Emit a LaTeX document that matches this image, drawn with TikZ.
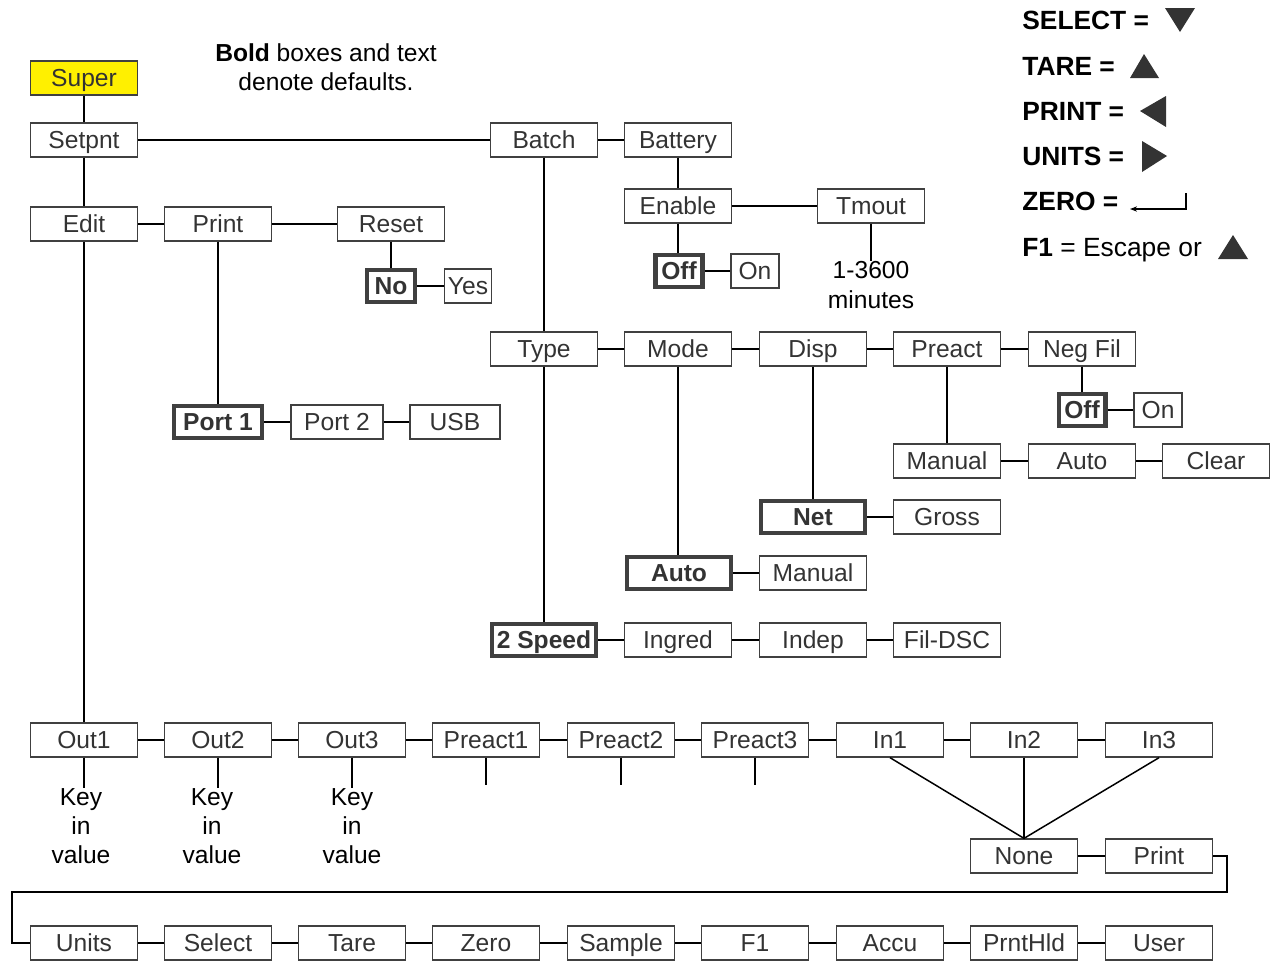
\documentclass[tikz,border=0pt]{standalone}
\usepackage{fontspec}
\setmainfont{Liberation Sans}
\usetikzlibrary{arrows.meta}
\definecolor{superyellow}{RGB}{255,240,0}
\definecolor{boxgray}{RGB}{64,64,64}
\definecolor{txtgray}{RGB}{51,51,51}

\begin{document}
\begin{tikzpicture}[x=0.02cm,y=-0.02cm,
  box/.style={draw=boxgray,line width=0.75pt,minimum width=2.14cm,minimum height=0.68cm,
    inner sep=0pt,text height=10pt,text depth=0pt,text=txtgray,font=\fontsize{14}{16.7}\selectfont},
  defbox/.style={box,line width=2.3pt,minimum height=0.64cm,font=\fontsize{14}{16.7}\selectfont\bfseries},
  link/.style={line width=0.85pt},
  note/.style={align=center,inner sep=0pt,font=\fontsize{14}{16.7}\selectfont},
  legend/.style={anchor=west,inner sep=0pt,text height=10.5pt,text depth=0pt,font=\fontsize{15}{18}\selectfont\bfseries}]
\path[use as bounding box] (0,0) rectangle (1270,961);

\node[box,fill=superyellow] (super) at (84,78) {Super};
\node[note,align=center] (defnote) at (326,67) {\textbf{Bold} boxes and text\\denote defaults.};

\node[box] (setpnt) at (84,140) {Setpnt};
\node[box] (batch) at (544,140) {Batch};
\node[box] (battery) at (678,140) {Battery};
\node[box] (enable) at (678,206) {Enable};
\node[box] (tmout) at (871,206) {Tmout};
\node[defbox,minimum width=0.94cm] (boff) at (679,271) {Off};
\node[box,minimum width=0.96cm] (bon) at (755,271) {On};
\node[note] (tmtext) at (871,285) {1-3600\\minutes};

\node[box] (edit) at (84,224) {Edit};
\node[box] (print) at (218,224) {Print};
\node[box] (reset) at (391,224) {Reset};
\node[defbox,minimum width=0.96cm] (no) at (391,286) {No};
\node[box,minimum width=0.94cm] (yes) at (468,286) {Yes};
\node[defbox,minimum width=1.76cm] (port1) at (218,422) {Port 1};
\node[box,minimum width=1.84cm] (port2) at (337,422) {Port 2};
\node[box,minimum width=1.8cm] (usb) at (455,422) {USB};

\node[box] (type) at (544,349) {Type};
\node[box] (mode) at (678,349) {Mode};
\node[box] (disp) at (813,349) {Disp};
\node[box] (preact) at (947,349) {Preact};
\node[box] (negfil) at (1082,349) {Neg Fil};
\node[defbox,minimum width=0.94cm] (nfoff) at (1082,410) {Off};
\node[box,minimum width=0.96cm] (nfon) at (1158,410) {On};
\node[box] (pmanual) at (947,461) {Manual};
\node[box] (pauto) at (1082,461) {Auto};
\node[box] (pclear) at (1216,461) {Clear};
\node[defbox,minimum width=2.08cm] (net) at (813,517) {Net};
\node[box] (gross) at (947,517) {Gross};
\node[defbox,minimum width=2.08cm] (mauto) at (679,573) {Auto};
\node[box] (mmanual) at (813,573) {Manual};
\node[defbox,minimum width=2.08cm] (speed) at (544,640) {2 Speed};
\node[box] (ingred) at (678,640) {Ingred};
\node[box] (indep) at (813,640) {Indep};
\node[box] (fildsc) at (947,640) {Fil-DSC};

\node[box] (out1) at (84,740) {Out1};
\node[box] (out2) at (218,740) {Out2};
\node[box] (out3) at (352,740) {Out3};
\node[box] (pre1) at (486,740) {Preact1};
\node[box] (pre2) at (621,740) {Preact2};
\node[box] (pre3) at (755,740) {Preact3};
\node[box] (in1) at (890,740) {In1};
\node[box] (in2) at (1024,740) {In2};
\node[box] (in3) at (1159,740) {In3};
\node[note] (key1) at (81,826) {Key\\in\\value};
\node[note] (key2) at (212,826) {Key\\in\\value};
\node[note] (key3) at (352,826) {Key\\in\\value};
\node[box] (none) at (1024,856) {None};
\node[box] (inprint) at (1159,856) {Print};

\node[box] (units) at (84,943) {Units};
\node[box] (select) at (218,943) {Select};
\node[box] (tare) at (352,943) {Tare};
\node[box] (zero) at (486,943) {Zero};
\node[box] (sample) at (621,943) {Sample};
\node[box] (fone) at (755,943) {F1};
\node[box] (accu) at (890,943) {Accu};
\node[box] (prnthld) at (1024,943) {PrntHld};
\node[box] (user) at (1159,943) {User};

\draw[link] (super) -- (setpnt);
\draw[link] (setpnt) -- (batch);
\draw[link] (batch) -- (battery);
\draw[link] (battery) -- (enable);
\draw[link] (enable) -- (tmout);
\draw[link] (enable.south) -- (enable.south |- boff.north);
\draw[link] (boff) -- (bon);
\draw[link] (tmout) -- (tmtext);
\draw[link] (setpnt) -- (edit);
\draw[link] (edit) -- (print);
\draw[link] (print) -- (reset);
\draw[link] (reset) -- (no);
\draw[link] (no) -- (yes);
\draw[link] (print) -- (port1);
\draw[link] (port1) -- (port2);
\draw[link] (port2) -- (usb);
\draw[link] (batch) -- (type);
\draw[link] (type) -- (mode);
\draw[link] (mode) -- (disp);
\draw[link] (disp) -- (preact);
\draw[link] (preact) -- (negfil);
\draw[link] (negfil) -- (nfoff);
\draw[link] (nfoff) -- (nfon);
\draw[link] (preact) -- (pmanual);
\draw[link] (pmanual) -- (pauto);
\draw[link] (pauto) -- (pclear);
\draw[link] (disp) -- (net);
\draw[link] (net) -- (gross);
\draw[link] (mode.south) -- (mode.south |- mauto.north);
\draw[link] (mauto) -- (mmanual);
\draw[link] (type) -- (speed);
\draw[link] (speed) -- (ingred);
\draw[link] (ingred) -- (indep);
\draw[link] (indep) -- (fildsc);

\draw[link] (edit) -- (out1);
\draw[link] (out1) -- (out2);
\draw[link] (out2) -- (out3);
\draw[link] (out3) -- (pre1);
\draw[link] (pre1) -- (pre2);
\draw[link] (pre2) -- (pre3);
\draw[link] (pre3) -- (in1);
\draw[link] (in1) -- (in2);
\draw[link] (in2) -- (in3);
\draw[link] (out1.south) -- (out1.south |- key1.north);
\draw[link] (out2.south) -- (out2.south |- key2.north);
\draw[link] (out3.south) -- (out3.south |- key3.north);
\draw[link] (pre1.south) -- ++(0,27);
\draw[link] (pre2.south) -- ++(0,27);
\draw[link] (pre3.south) -- ++(0,27);
\draw[link] (in1.south) -- (none.north);
\draw[link] (in2.south) -- (none.north);
\draw[link] (in3.south) -- (none.north);
\draw[link] (none) -- (inprint);
\draw[link] (inprint.east) -- ++(14,0) -- ++(0,36) -- (12,892) |- (units.west);
\draw[link] (units) -- (select);
\draw[link] (select) -- (tare);
\draw[link] (tare) -- (zero);
\draw[link] (zero) -- (sample);
\draw[link] (sample) -- (fone);
\draw[link] (fone) -- (accu);
\draw[link] (accu) -- (prnthld);
\draw[link] (prnthld) -- (user);

\node[legend] (selkey) at (1022,20) {SELECT =};
\node[legend] (tarekey) at (1022,66) {TARE =};
\node[legend] (printkey) at (1022,111) {PRINT =};
\node[legend] (unitskey) at (1022,156) {UNITS =};
\node[legend] (zerokey) at (1022,201) {ZERO =};
\node[legend] (fonekey) at (1022,247) {F1 \mdseries= Escape or};
\fill[txtgray] (1165,8) -- (1195,8) -- (1180,32) -- cycle;
\fill[txtgray] (1130,78) -- (1159,78) -- (1144,54) -- cycle;
\fill[txtgray] (1140,111) -- (1166,96) -- (1166,127) -- cycle;
\fill[txtgray] (1142,141) -- (1142,172) -- (1167,156) -- cycle;
\fill[txtgray] (1218,259) -- (1248,259) -- (1233,235) -- cycle;
\draw[line width=0.75pt,-{Stealth[length=4pt,width=3pt]}] (1186,193) -- (1186,209) -- (1130,209);
\end{tikzpicture}
\end{document}
